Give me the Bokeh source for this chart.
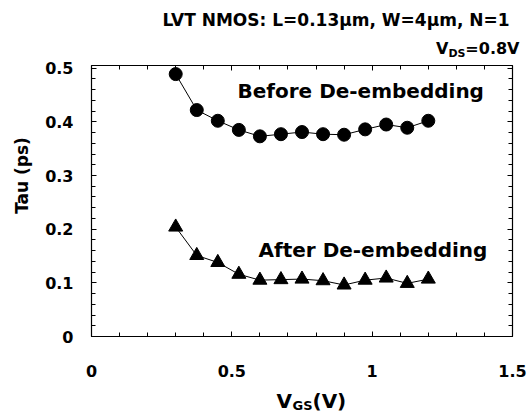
import math
from bokeh.plotting import figure
from bokeh.models import Range1d, FixedTicker, LinearAxis, Label
from bokeh.embed import file_html
from bokeh.resources import INLINE

vgs = [0.3, 0.375, 0.45, 0.525, 0.6, 0.675, 0.75, 0.825, 0.9, 0.975, 1.05, 1.125, 1.2]
tau_before = [0.489, 0.422, 0.402, 0.385, 0.373, 0.377, 0.381, 0.377, 0.376, 0.386, 0.395, 0.389, 0.402]
tau_after = [0.204, 0.151, 0.138, 0.116, 0.105, 0.106, 0.107, 0.104, 0.096, 0.105, 0.109, 0.099, 0.107]

x_min, x_max = 0, 1.5
y_min, y_max = 0, 0.505
x_major = [0, 0.5, 1, 1.5]
x_minor = [i / 10 for i in range(16)]
x_labels = {0: "0", 0.5: "0.5", 1: "1", 1.5: "1.5"}
y_major = [0, 0.1, 0.2, 0.3, 0.4, 0.5]
y_minor = [i / 50 for i in range(26)]
y_labels = {0: "0", 0.1: "0.1", 0.2: "0.2", 0.3: "0.3", 0.4: "0.4", 0.5: "0.5"}

FONT = "DejaVu Sans"
W, H = 532, 412
# frame box in canvas pixels
BOX_L, BOX_R, BOX_T, BOX_B = 91, 512, 65, 336
sx = (BOX_R - BOX_L) / (x_max - x_min)
sy = (BOX_B - BOX_T) / (y_max - y_min)
xr = Range1d(x_min - BOX_L / sx, x_min + (W - BOX_L) / sx)
yr = Range1d(y_min - (H - BOX_B) / sy, y_min + BOX_B / sy)

p = figure(width=W, height=H, output_backend="svg", toolbar_location=None,
           x_range=xr, y_range=yr,
           min_border_left=0, min_border_right=0, min_border_top=0, min_border_bottom=0)
p.grid.visible = False
p.outline_line_color = None
p.background_fill_color = "white"
p.border_fill_color = "white"

def style_axis(ax, major, minor, labels, show_labels=True):
    ax.ticker = FixedTicker(ticks=major, minor_ticks=minor)
    ax.major_label_overrides = labels if show_labels else {t: "" for t in major}
    ax.major_tick_in = 5
    ax.major_tick_out = 0
    ax.minor_tick_in = 4
    ax.minor_tick_out = 0
    ax.axis_line_color = "black"
    ax.axis_line_width = 1.2
    ax.major_tick_line_color = "black"
    ax.minor_tick_line_color = "black"
    ax.major_label_text_font = FONT
    ax.major_label_text_font_style = "bold"
    ax.major_label_text_font_size = "16px"
    ax.major_label_text_color = "black"

xa = p.xaxis[0]
style_axis(xa, x_major, x_minor, x_labels)
xa.fixed_location = y_min
xa.bounds = (x_min, x_max)
xa.major_label_standoff = 28

ya = p.yaxis[0]
style_axis(ya, y_major, y_minor, y_labels)
ya.fixed_location = x_min
ya.bounds = (y_min, y_max)
ya.major_label_standoff = 18

top = LinearAxis(fixed_location=y_max, bounds=(x_min, x_max))
style_axis(top, x_major, x_minor, {}, show_labels=False)
p.add_layout(top, "above")
right = LinearAxis(fixed_location=x_max, bounds=(y_min, y_max))
style_axis(right, y_major, y_minor, {}, show_labels=False)
p.add_layout(right, "right")

p.line(vgs, tau_before, line_color="black", line_width=1)
p.scatter(vgs, tau_before, marker="circle", size=13, fill_color="black", line_color="black")
p.line(vgs, tau_after, line_color="black", line_width=1)
p.scatter(vgs, tau_after, marker="triangle", size=14, fill_color="black", line_color="black")

def lab(text, px, py, size, align="left", angle=0):
    p.add_layout(Label(x=px, y=py, x_units="canvas", y_units="canvas", text=text,
                       text_font=FONT, text_font_style="bold", text_font_size=size,
                       text_align=align, text_baseline="middle", text_color="black",
                       angle=angle))

lab("LVT NMOS: L=0.13\u03bcm, W=4\u03bcm, N=1", 162, 19, "17px", "left")
# V_DS=0.8V
lab("=0.8V", 519, 48, "16px", "right")
lab("DS", 465, 53, "11px", "right")
lab("V", 448, 48, "16px", "right")
# annotations
lab("Before De-embedding", 237, 90, "20px")
lab("After De-embedding", 258, 249, "20px")
# axis titles
lab("Tau (ps)", 21, 175, "17px", "center", math.pi / 2)
lab("V", 276, 400, "20px")
lab("GS", 292, 405, "13px")
lab("(V)", 312, 400, "20px")

open("out.html", "w").write(file_html(p, INLINE))
